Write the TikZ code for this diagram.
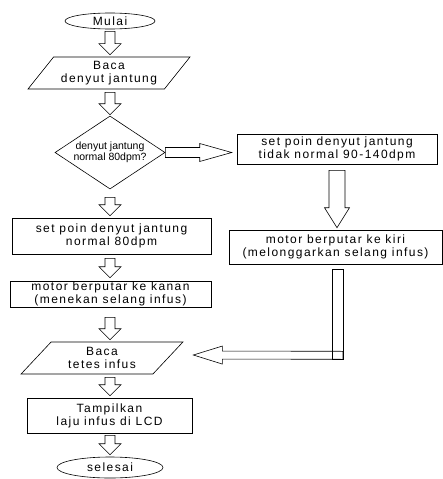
\documentclass[tikz,border=0pt]{standalone}
\usepackage{fontspec}
\setmainfont{Liberation Sans}[LetterSpace=12]
\newfontfamily\plainsans{Liberation Sans}
\usetikzlibrary{shapes.geometric,calc}
\tikzset{
 every node/.style={font=\fontsize{12}{13}\selectfont, inner sep=0pt, align=center},
 box/.style={draw, rectangle, line width=0.6pt},
 term/.style={draw, ellipse, line width=0.6pt},
 io/.style={draw, trapezium, trapezium left angle=47, trapezium right angle=133, trapezium stretches=true, minimum width=162pt, minimum height=32pt, line width=0.6pt},
 dec/.style={draw, diamond, aspect=1.5, minimum width=110pt, minimum height=73pt, line width=0.6pt, font=\plainsans\fontsize{10.5}{11}\selectfont},
 blk/.style={draw, line width=0.6pt, line join=miter},
}
\newcommand\barrow[5]{%
 \path (#1) coordinate (ba-A) (#2) coordinate (ba-B);
 \path ($(ba-B)!#5pt!(ba-A)$) coordinate (ba-H);
 \draw[blk] ($(ba-A)!#3pt!90:(ba-B)$) -- ($(ba-H)!#3pt!90:(ba-B)$) -- ($(ba-H)!#4pt!90:(ba-B)$) -- (ba-B) -- ($(ba-H)!#4pt!-90:(ba-B)$) -- ($(ba-H)!#3pt!-90:(ba-B)$) -- ($(ba-A)!#3pt!-90:(ba-B)$) -- cycle;}
\begin{document}
\begin{tikzpicture}[x=1pt,y=1pt]
\useasboundingbox (0,0) rectangle (443,-479);
\node[term, minimum width=90pt, minimum height=16pt] (m1) at (110,-21) {Mulai};
\node[io] (b1) at (109,-73) {Baca\\denyut jantung};
\node[dec] (d1) at (110,-152.5) {denyut jantung\\normal 80dpm?};
\node[box, minimum width=199pt, minimum height=36pt] (s1) at (111.5,-236) {set poin denyut jantung\\normal 80dpm};
\node[box, minimum width=201pt, minimum height=26pt] (k1) at (110.5,-294) {motor berputar ke kanan\\(menekan selang infus)};
\node[io] (b2) at (102,-358) {Baca\\tetes infus};
\node[box, minimum width=165pt, minimum height=35pt] (t1) at (109.5,-415.5) {Tampilkan\\laju infus di LCD};
\node[term, minimum width=106pt, minimum height=21pt] (e1) at (110,-467.5) {selesai};
\node[box, minimum width=200pt, minimum height=30pt] (s2) at (337,-149) {set poin denyut jantung\\tidak normal 90-140dpm};
\node[box, minimum width=213pt, minimum height=34pt] (kr) at (335.5,-247) {motor berputar ke kiri\\(melonggarkan selang infus)};
% vertical block arrows, left column
\barrow{$(m1.south)+(0,-2)$}{$(m1.south |- b1.north)+(0,2)$}{5}{11}{11}
\barrow{$(b1.south -| d1.north)+(0,-3)$}{$(d1.north)+(0,1)$}{5}{11}{11}
\barrow{$(d1.south)+(0,-8)$}{$(d1.south |- s1.north)+(0,2)$}{5}{11}{11}
\barrow{$(s1.south -| d1.south)+(0,-4)$}{$(d1.south |- k1.north)+(0,3)$}{5}{11}{11}
\barrow{$(k1.south -| d1.south)+(0,-10)$}{$(d1.south |- b2.north)+(0,2)$}{5}{11}{11}
\barrow{$(b2.south -| d1.south)+(0,-3)$}{$(d1.south |- t1.north)+(0,2)$}{5}{11}{11}
\barrow{$(t1.south -| d1.south)+(0,-2)$}{$(d1.south |- e1.north)+(0,2)$}{5}{11}{11}
% right branch
\barrow{$(d1.east)$}{$(d1.east -| s2.west)+(-5,0)$}{5}{9}{32}
\barrow{$(s2.south)+(0,-6)$}{$(s2.south |- kr.north)+(0,2)$}{8}{12.5}{20}
% L-shaped return arrow
\coordinate (ltop) at ($(kr.south)+(2,-5)$);
\draw[blk] ($(ltop)+(-5.5,0)$) rectangle ($(ltop)+(5.5,-90)$);
\barrow{$(ltop)+(5.5,-86)$}{$(b2.east)+(25,3)$}{4}{9}{29}
\end{tikzpicture}
\end{document}
